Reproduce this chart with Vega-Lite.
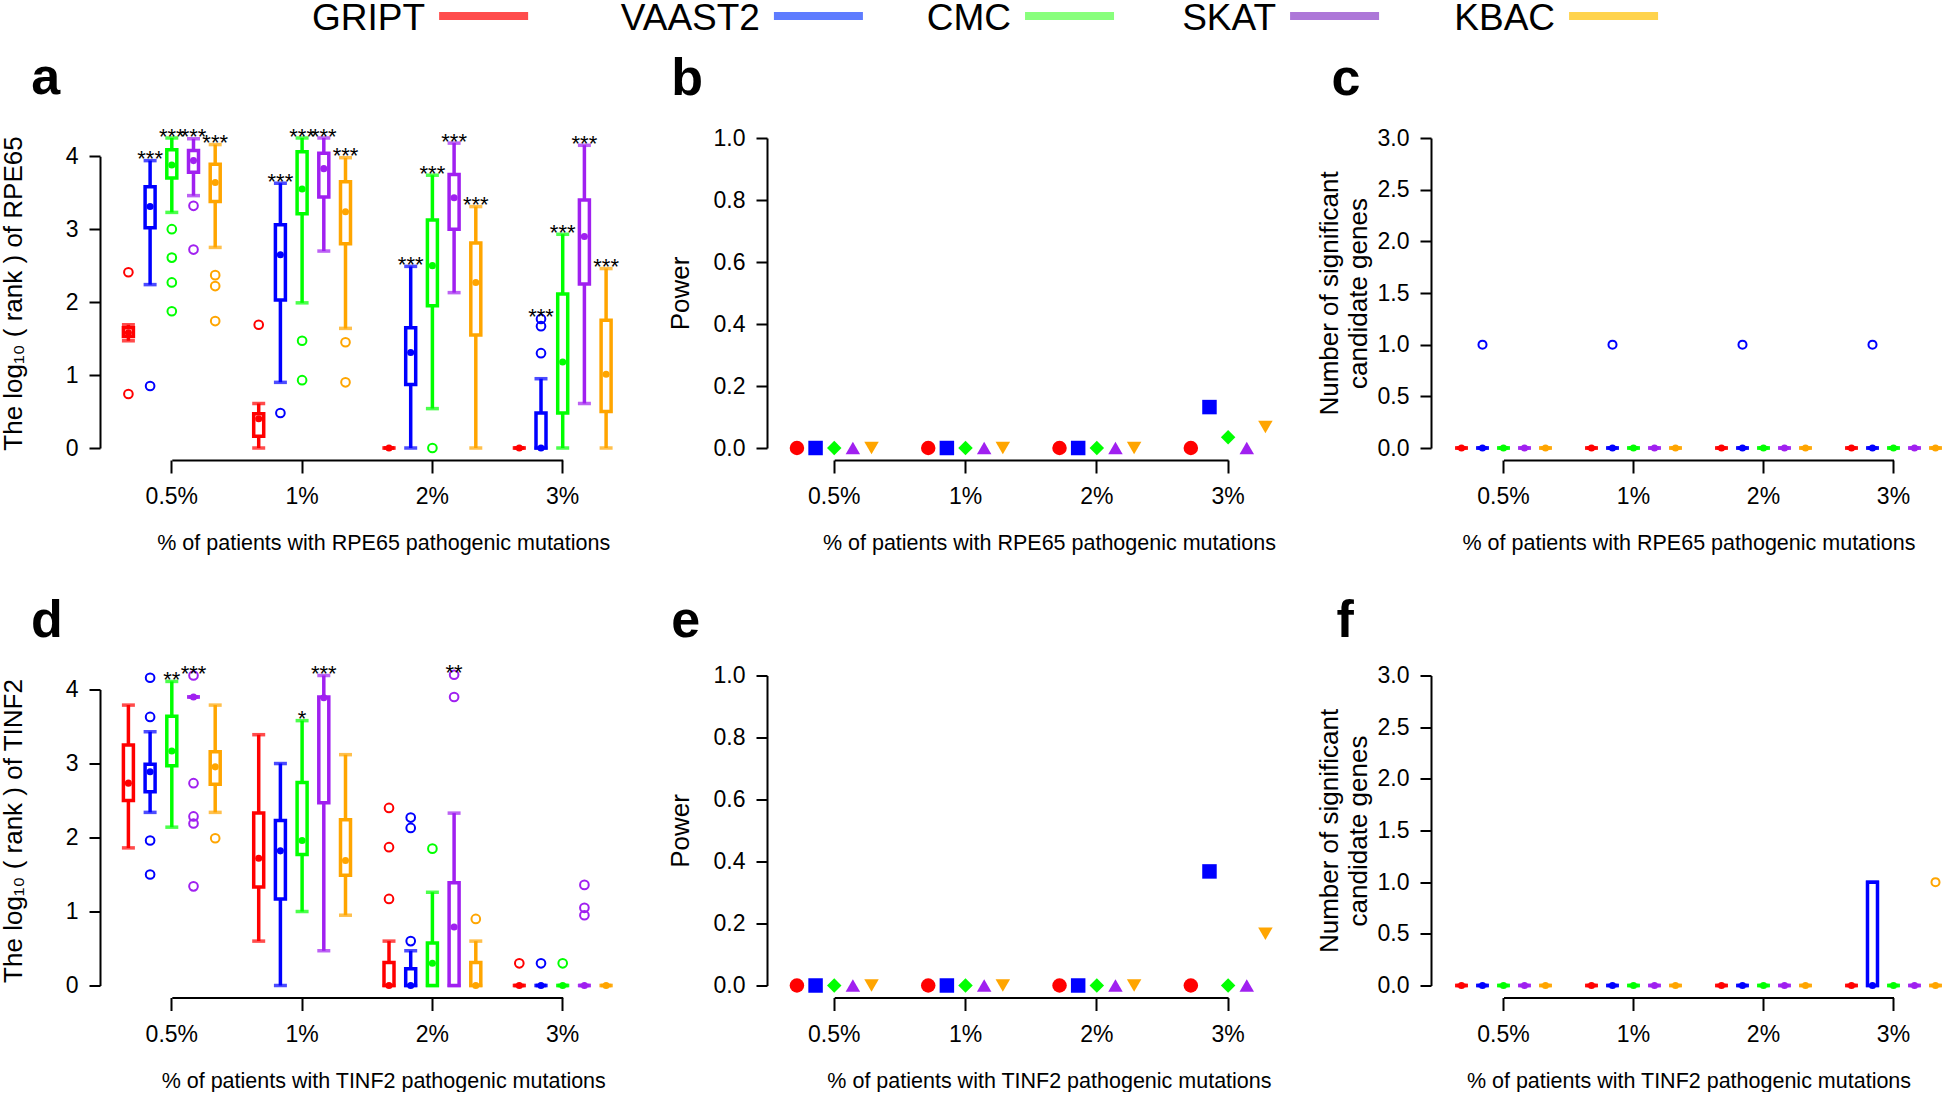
{
"$schema":"https://vega.github.io/schema/vega-lite/v6.json",
"padding":0,
"background":"white",
"config":{
 "view":{"stroke":null},
 "font":"Liberation Sans",
 "axis":{"grid":false,"domainColor":"black","domainWidth":2,"tickColor":"black","tickWidth":2,"labelColor":"black","titleColor":"black","labelFont":"Liberation Sans","labelFontSize":23,"titleFontWeight":"normal","titleFontSize":26},
 "axisX":{"offset":12,"tickSize":13,"labelPadding":12.5,"labelAngle":0,"titleFontSize":21.5,"titlePadding":24},
 "axisY":{"tickSize":11,"labelPadding":11},
 "title":{"font":"Liberation Sans","fontSize":52,"fontWeight":"bold","anchor":"start","frame":"group","baseline":"alphabetic","color":"black"}
},
"datasets":{
 "legend":[{"method":"GRIPT"},{"method":"VAAST2"},{"method":"CMC"},{"method":"SKAT"},{"method":"KBAC"}],
 "boxA":[
  {"pct":"0.5%","method":"GRIPT","lo":1.47,"q1":1.53,"med":1.58,"q3":1.65,"hi":1.69,"top":1.69,"sig":""},
  {"pct":"0.5%","method":"VAAST2","lo":2.24,"q1":3.02,"med":3.31,"q3":3.58,"hi":3.94,"top":3.94,"sig":"***"},
  {"pct":"0.5%","method":"CMC","lo":3.23,"q1":3.70,"med":3.88,"q3":4.09,"hi":4.25,"top":4.25,"sig":"***"},
  {"pct":"0.5%","method":"SKAT","lo":3.46,"q1":3.78,"med":3.94,"q3":4.08,"hi":4.24,"top":4.24,"sig":"***"},
  {"pct":"0.5%","method":"KBAC","lo":2.75,"q1":3.38,"med":3.64,"q3":3.89,"hi":4.16,"top":4.16,"sig":"***"},
  {"pct":"1%","method":"GRIPT","lo":0,"q1":0.16,"med":0.40,"q3":0.47,"hi":0.61,"top":1.69,"sig":""},
  {"pct":"1%","method":"VAAST2","lo":0.90,"q1":2.03,"med":2.65,"q3":3.06,"hi":3.63,"top":3.63,"sig":"***"},
  {"pct":"1%","method":"CMC","lo":1.99,"q1":3.21,"med":3.55,"q3":4.06,"hi":4.25,"top":4.25,"sig":"***"},
  {"pct":"1%","method":"SKAT","lo":2.70,"q1":3.44,"med":3.83,"q3":4.04,"hi":4.25,"top":4.25,"sig":"***"},
  {"pct":"1%","method":"KBAC","lo":1.64,"q1":2.80,"med":3.24,"q3":3.65,"hi":3.98,"top":3.98,"sig":"***"},
  {"pct":"2%","method":"GRIPT","lo":0,"q1":0,"med":0,"q3":0,"hi":0,"top":0,"sig":""},
  {"pct":"2%","method":"VAAST2","lo":0,"q1":0.87,"med":1.31,"q3":1.65,"hi":2.49,"top":2.49,"sig":"***"},
  {"pct":"2%","method":"CMC","lo":0.54,"q1":1.95,"med":2.50,"q3":3.125,"hi":3.74,"top":3.74,"sig":"***"},
  {"pct":"2%","method":"SKAT","lo":2.13,"q1":3.00,"med":3.43,"q3":3.75,"hi":4.18,"top":4.18,"sig":"***"},
  {"pct":"2%","method":"KBAC","lo":0,"q1":1.55,"med":2.27,"q3":2.81,"hi":3.31,"top":3.31,"sig":"***"},
  {"pct":"3%","method":"GRIPT","lo":0,"q1":0,"med":0,"q3":0,"hi":0,"top":0,"sig":""},
  {"pct":"3%","method":"VAAST2","lo":0,"q1":0,"med":0,"q3":0.48,"hi":0.95,"top":1.77,"sig":"***"},
  {"pct":"3%","method":"CMC","lo":0,"q1":0.48,"med":1.18,"q3":2.11,"hi":2.93,"top":2.93,"sig":"***"},
  {"pct":"3%","method":"SKAT","lo":0.61,"q1":2.25,"med":2.90,"q3":3.40,"hi":4.15,"top":4.15,"sig":"***"},
  {"pct":"3%","method":"KBAC","lo":0,"q1":0.50,"med":1.01,"q3":1.75,"hi":2.46,"top":2.46,"sig":"***"}
 ],
 "outA":[
  {"pct":"0.5%","method":"GRIPT","v":2.41},{"pct":"0.5%","method":"GRIPT","v":0.74},
  {"pct":"0.5%","method":"VAAST2","v":0.85},
  {"pct":"0.5%","method":"CMC","v":3.0},{"pct":"0.5%","method":"CMC","v":2.61},{"pct":"0.5%","method":"CMC","v":2.27},{"pct":"0.5%","method":"CMC","v":1.875},
  {"pct":"0.5%","method":"SKAT","v":3.32},{"pct":"0.5%","method":"SKAT","v":2.72},
  {"pct":"0.5%","method":"KBAC","v":2.37},{"pct":"0.5%","method":"KBAC","v":2.22},{"pct":"0.5%","method":"KBAC","v":1.74},
  {"pct":"1%","method":"GRIPT","v":1.69},
  {"pct":"1%","method":"VAAST2","v":0.48},
  {"pct":"1%","method":"CMC","v":1.47},{"pct":"1%","method":"CMC","v":0.93},
  {"pct":"1%","method":"KBAC","v":1.45},{"pct":"1%","method":"KBAC","v":0.90},
  {"pct":"2%","method":"CMC","v":0},
  {"pct":"3%","method":"VAAST2","v":1.77},{"pct":"3%","method":"VAAST2","v":1.67},{"pct":"3%","method":"VAAST2","v":1.30}
 ],
 "boxD":[
  {"pct":"0.5%","method":"GRIPT","lo":1.86,"q1":2.50,"med":2.735,"q3":3.25,"hi":3.79,"top":3.79,"sig":""},
  {"pct":"0.5%","method":"VAAST2","lo":2.34,"q1":2.62,"med":2.89,"q3":2.99,"hi":3.43,"top":4.16,"sig":""},
  {"pct":"0.5%","method":"CMC","lo":2.14,"q1":2.97,"med":3.17,"q3":3.64,"hi":4.11,"top":4.11,"sig":"**"},
  {"pct":"0.5%","method":"SKAT","lo":3.9,"q1":3.9,"med":3.9,"q3":3.9,"hi":3.9,"top":4.19,"sig":"***"},
  {"pct":"0.5%","method":"KBAC","lo":2.34,"q1":2.72,"med":2.955,"q3":3.16,"hi":3.79,"top":3.79,"sig":""},
  {"pct":"1%","method":"GRIPT","lo":0.60,"q1":1.33,"med":1.72,"q3":2.33,"hi":3.39,"top":3.39,"sig":""},
  {"pct":"1%","method":"VAAST2","lo":0,"q1":1.17,"med":1.82,"q3":2.23,"hi":3.0,"top":3.0,"sig":""},
  {"pct":"1%","method":"CMC","lo":1.0,"q1":1.77,"med":1.96,"q3":2.745,"hi":3.58,"top":3.58,"sig":"*"},
  {"pct":"1%","method":"SKAT","lo":0.47,"q1":2.47,"med":3.89,"q3":3.90,"hi":4.19,"top":4.19,"sig":"***"},
  {"pct":"1%","method":"KBAC","lo":0.95,"q1":1.49,"med":1.69,"q3":2.24,"hi":3.12,"top":3.12,"sig":""},
  {"pct":"2%","method":"GRIPT","lo":0,"q1":0,"med":0,"q3":0.31,"hi":0.60,"top":2.40,"sig":""},
  {"pct":"2%","method":"VAAST2","lo":0,"q1":0,"med":0,"q3":0.225,"hi":0.47,"top":2.27,"sig":""},
  {"pct":"2%","method":"CMC","lo":0,"q1":0,"med":0.30,"q3":0.575,"hi":1.26,"top":1.85,"sig":""},
  {"pct":"2%","method":"SKAT","lo":0,"q1":0,"med":0.79,"q3":1.39,"hi":2.33,"top":4.20,"sig":"**"},
  {"pct":"2%","method":"KBAC","lo":0,"q1":0,"med":0,"q3":0.31,"hi":0.60,"top":0.90,"sig":""},
  {"pct":"3%","method":"GRIPT","lo":0,"q1":0,"med":0,"q3":0,"hi":0,"top":0.30,"sig":""},
  {"pct":"3%","method":"VAAST2","lo":0,"q1":0,"med":0,"q3":0,"hi":0,"top":0.30,"sig":""},
  {"pct":"3%","method":"CMC","lo":0,"q1":0,"med":0,"q3":0,"hi":0,"top":0.30,"sig":""},
  {"pct":"3%","method":"SKAT","lo":0,"q1":0,"med":0,"q3":0,"hi":0,"top":1.36,"sig":""},
  {"pct":"3%","method":"KBAC","lo":0,"q1":0,"med":0,"q3":0,"hi":0,"top":0,"sig":""}
 ],
 "outD":[
  {"pct":"0.5%","method":"VAAST2","v":4.16},{"pct":"0.5%","method":"VAAST2","v":3.63},{"pct":"0.5%","method":"VAAST2","v":1.96},{"pct":"0.5%","method":"VAAST2","v":1.50},
  {"pct":"0.5%","method":"SKAT","v":4.19},{"pct":"0.5%","method":"SKAT","v":2.735},{"pct":"0.5%","method":"SKAT","v":2.285},{"pct":"0.5%","method":"SKAT","v":2.19},{"pct":"0.5%","method":"SKAT","v":1.34},
  {"pct":"0.5%","method":"KBAC","v":1.99},
  {"pct":"2%","method":"GRIPT","v":2.40},{"pct":"2%","method":"GRIPT","v":1.87},{"pct":"2%","method":"GRIPT","v":1.17},
  {"pct":"2%","method":"VAAST2","v":2.27},{"pct":"2%","method":"VAAST2","v":2.13},{"pct":"2%","method":"VAAST2","v":0.60},
  {"pct":"2%","method":"CMC","v":1.85},
  {"pct":"2%","method":"SKAT","v":4.20},{"pct":"2%","method":"SKAT","v":3.90},
  {"pct":"2%","method":"KBAC","v":0.90},
  {"pct":"3%","method":"GRIPT","v":0.30},{"pct":"3%","method":"VAAST2","v":0.30},{"pct":"3%","method":"CMC","v":0.30},
  {"pct":"3%","method":"SKAT","v":1.36},{"pct":"3%","method":"SKAT","v":1.05},{"pct":"3%","method":"SKAT","v":0.95}
 ],
 "powB":[
  {"pct":"0.5%","method":"GRIPT","power":0},{"pct":"0.5%","method":"VAAST2","power":0},{"pct":"0.5%","method":"CMC","power":0},{"pct":"0.5%","method":"SKAT","power":0},{"pct":"0.5%","method":"KBAC","power":0},
  {"pct":"1%","method":"GRIPT","power":0},{"pct":"1%","method":"VAAST2","power":0},{"pct":"1%","method":"CMC","power":0},{"pct":"1%","method":"SKAT","power":0},{"pct":"1%","method":"KBAC","power":0},
  {"pct":"2%","method":"GRIPT","power":0},{"pct":"2%","method":"VAAST2","power":0},{"pct":"2%","method":"CMC","power":0},{"pct":"2%","method":"SKAT","power":0},{"pct":"2%","method":"KBAC","power":0},
  {"pct":"3%","method":"GRIPT","power":0},{"pct":"3%","method":"VAAST2","power":0.132},{"pct":"3%","method":"CMC","power":0.035},{"pct":"3%","method":"SKAT","power":0},{"pct":"3%","method":"KBAC","power":0.068}
 ],
 "powE":[
  {"pct":"0.5%","method":"GRIPT","power":0},{"pct":"0.5%","method":"VAAST2","power":0},{"pct":"0.5%","method":"CMC","power":0},{"pct":"0.5%","method":"SKAT","power":0},{"pct":"0.5%","method":"KBAC","power":0},
  {"pct":"1%","method":"GRIPT","power":0},{"pct":"1%","method":"VAAST2","power":0},{"pct":"1%","method":"CMC","power":0},{"pct":"1%","method":"SKAT","power":0},{"pct":"1%","method":"KBAC","power":0},
  {"pct":"2%","method":"GRIPT","power":0},{"pct":"2%","method":"VAAST2","power":0},{"pct":"2%","method":"CMC","power":0},{"pct":"2%","method":"SKAT","power":0},{"pct":"2%","method":"KBAC","power":0},
  {"pct":"3%","method":"GRIPT","power":0},{"pct":"3%","method":"VAAST2","power":0.368},{"pct":"3%","method":"CMC","power":0},{"pct":"3%","method":"SKAT","power":0},{"pct":"3%","method":"KBAC","power":0.167}
 ],
 "boxC":[
  {"pct":"0.5%","method":"GRIPT","lo":0,"q1":0,"med":0,"q3":0,"hi":0},{"pct":"0.5%","method":"VAAST2","lo":0,"q1":0,"med":0,"q3":0,"hi":0},{"pct":"0.5%","method":"CMC","lo":0,"q1":0,"med":0,"q3":0,"hi":0},{"pct":"0.5%","method":"SKAT","lo":0,"q1":0,"med":0,"q3":0,"hi":0},{"pct":"0.5%","method":"KBAC","lo":0,"q1":0,"med":0,"q3":0,"hi":0},
  {"pct":"1%","method":"GRIPT","lo":0,"q1":0,"med":0,"q3":0,"hi":0},{"pct":"1%","method":"VAAST2","lo":0,"q1":0,"med":0,"q3":0,"hi":0},{"pct":"1%","method":"CMC","lo":0,"q1":0,"med":0,"q3":0,"hi":0},{"pct":"1%","method":"SKAT","lo":0,"q1":0,"med":0,"q3":0,"hi":0},{"pct":"1%","method":"KBAC","lo":0,"q1":0,"med":0,"q3":0,"hi":0},
  {"pct":"2%","method":"GRIPT","lo":0,"q1":0,"med":0,"q3":0,"hi":0},{"pct":"2%","method":"VAAST2","lo":0,"q1":0,"med":0,"q3":0,"hi":0},{"pct":"2%","method":"CMC","lo":0,"q1":0,"med":0,"q3":0,"hi":0},{"pct":"2%","method":"SKAT","lo":0,"q1":0,"med":0,"q3":0,"hi":0},{"pct":"2%","method":"KBAC","lo":0,"q1":0,"med":0,"q3":0,"hi":0},
  {"pct":"3%","method":"GRIPT","lo":0,"q1":0,"med":0,"q3":0,"hi":0},{"pct":"3%","method":"VAAST2","lo":0,"q1":0,"med":0,"q3":0,"hi":0},{"pct":"3%","method":"CMC","lo":0,"q1":0,"med":0,"q3":0,"hi":0},{"pct":"3%","method":"SKAT","lo":0,"q1":0,"med":0,"q3":0,"hi":0},{"pct":"3%","method":"KBAC","lo":0,"q1":0,"med":0,"q3":0,"hi":0}
 ],
 "outC":[{"pct":"0.5%","method":"VAAST2","v":1},{"pct":"1%","method":"VAAST2","v":1},{"pct":"2%","method":"VAAST2","v":1},{"pct":"3%","method":"VAAST2","v":1}],
 "boxF":[
  {"pct":"0.5%","method":"GRIPT","lo":0,"q1":0,"med":0,"q3":0,"hi":0},{"pct":"0.5%","method":"VAAST2","lo":0,"q1":0,"med":0,"q3":0,"hi":0},{"pct":"0.5%","method":"CMC","lo":0,"q1":0,"med":0,"q3":0,"hi":0},{"pct":"0.5%","method":"SKAT","lo":0,"q1":0,"med":0,"q3":0,"hi":0},{"pct":"0.5%","method":"KBAC","lo":0,"q1":0,"med":0,"q3":0,"hi":0},
  {"pct":"1%","method":"GRIPT","lo":0,"q1":0,"med":0,"q3":0,"hi":0},{"pct":"1%","method":"VAAST2","lo":0,"q1":0,"med":0,"q3":0,"hi":0},{"pct":"1%","method":"CMC","lo":0,"q1":0,"med":0,"q3":0,"hi":0},{"pct":"1%","method":"SKAT","lo":0,"q1":0,"med":0,"q3":0,"hi":0},{"pct":"1%","method":"KBAC","lo":0,"q1":0,"med":0,"q3":0,"hi":0},
  {"pct":"2%","method":"GRIPT","lo":0,"q1":0,"med":0,"q3":0,"hi":0},{"pct":"2%","method":"VAAST2","lo":0,"q1":0,"med":0,"q3":0,"hi":0},{"pct":"2%","method":"CMC","lo":0,"q1":0,"med":0,"q3":0,"hi":0},{"pct":"2%","method":"SKAT","lo":0,"q1":0,"med":0,"q3":0,"hi":0},{"pct":"2%","method":"KBAC","lo":0,"q1":0,"med":0,"q3":0,"hi":0},
  {"pct":"3%","method":"GRIPT","lo":0,"q1":0,"med":0,"q3":0,"hi":0},{"pct":"3%","method":"VAAST2","lo":0,"q1":0,"med":0,"q3":1,"hi":1},{"pct":"3%","method":"CMC","lo":0,"q1":0,"med":0,"q3":0,"hi":0},{"pct":"3%","method":"SKAT","lo":0,"q1":0,"med":0,"q3":0,"hi":0},{"pct":"3%","method":"KBAC","lo":0,"q1":0,"med":0,"q3":0,"hi":0}
 ],
 "outF":[{"pct":"3%","method":"KBAC","v":1}]
},
"resolve":{"scale":{"color":"independent","xOffset":"independent"}},
"spacing":14,
"vconcat":[
 {
  "width":1520.55,"height":28,
  "data":{"name":"legend"},
  "encoding":{
   "x":{"field":"method","type":"nominal","scale":{"type":"band","paddingInner":0,"paddingOuter":0,"domain":["s0","s1","s2","s3","s4","s5","s6","s7","s8","s9","s10","s11","s12","s13","s14","s15","s16","s17","s18","s19","s20","s21","s22","s23","s24","s25","s26","GRIPT","s28","s29","s30","s31","s32","s33","s34","s35","s36","s37","s38","s39","s40","s41","s42","s43","s44","s45","s46","s47","s48","s49","s50","VAAST2","s52","s53","s54","s55","s56","s57","s58","s59","s60","s61","s62","s63","s64","s65","s66","s67","s68","CMC","s70","s71","s72","s73","s74","s75","s76","s77","s78","s79","s80","s81","s82","s83","s84","s85","s86","s87","SKAT","s89","s90","s91","s92","s93","s94","s95","s96","s97","s98","s99","s100","s101","s102","s103","s104","s105","s106","s107","KBAC"]},"axis":null},
   "color":{"field":"method","type":"nominal","scale":{"domain":["GRIPT","VAAST2","CMC","SKAT","KBAC"],"range":["#FF0000","#1A44FF","#55FF44","#8A3DC8","#FFC000"]},"legend":null}
  },
  "layer":[
   {"mark":{"type":"tick","orient":"horizontal","size":89,"thickness":8}},
   {"mark":{"type":"text","align":"right","baseline":"middle","dx":-58.5,"dy":3,"fontSize":37,"font":"Liberation Sans"},"encoding":{"text":{"field":"method"},"color":{"value":"black"}}}
  ]
 },
 {
  "columns":3,
  "bounds":"flush",
  "spacing":{"row":227.5,"column":100},
  "resolve":{"scale":{"xOffset":"independent","x":"independent","y":"independent"}},
  "concat":[
     {
      "width":566.5,"height":310,
      "title":{"text":"a","dx":-68.7,"offset":21},
      "encoding":{
       "x":{"field":"pct","type":"nominal","sort":["0.5%","1%","2%","3%"],"title":"% of patients with RPE65 pathogenic mutations","scale":{"type":"band","domain":["0.5%","1%","2%","3%"],"paddingInner":0.1673,"paddingOuter":0.2575,"align":0.2616},"axis":{"domainDash":[0,71.8,390.9,3000]}},
       "xOffset":{"field":"method","type":"nominal","sort":["GRIPT","VAAST2","CMC","SKAT","KBAC"],"scale":{"type":"band","domain":["GRIPT","VAAST2","CMC","SKAT","KBAC"],"paddingInner":0,"paddingOuter":0}},
       "color":{"field":"method","type":"nominal","scale":{"domain":["GRIPT","VAAST2","CMC","SKAT","KBAC"],"range":["#FF0000","#0000FF","#00FF00","#A020F0","#FFA500"]},"legend":null}
      },
      "layer":[
       {"data":{"name":"boxA"},"mark":{"type":"rule","strokeWidth":3.5},"encoding":{"y":{"field":"lo","type":"quantitative","title":"The log₁₀ ( rank ) of RPE65","scale":{"domain":[0,4.25],"nice":false,"zero":false},"axis":{"values":[0,1,2,3,4],"format":"d","domainDash":[291.8,3000],"titlePadding":39}},"y2":{"field":"hi"}}},
       {"data":{"name":"boxA"},"mark":{"type":"tick","orient":"horizontal","size":13,"thickness":3.5},"encoding":{"y":{"field":"lo","type":"quantitative","title":"The log₁₀ ( rank ) of RPE65","scale":{"domain":[0,4.25],"nice":false,"zero":false}}}},
       {"data":{"name":"boxA"},"mark":{"type":"tick","orient":"horizontal","size":13,"thickness":3.5},"encoding":{"y":{"field":"hi","type":"quantitative","title":"The log₁₀ ( rank ) of RPE65","scale":{"domain":[0,4.25],"nice":false,"zero":false}}}},
       {"data":{"name":"boxA"},"mark":{"type":"bar","width":10,"strokeWidth":3.5},"encoding":{"y":{"field":"q1","type":"quantitative","title":"The log₁₀ ( rank ) of RPE65","scale":{"domain":[0,4.25],"nice":false,"zero":false}},"y2":{"field":"q3"},"color":{"value":"white"},"stroke":{"field":"method","type":"nominal","scale":{"domain":["GRIPT","VAAST2","CMC","SKAT","KBAC"],"range":["#FF0000","#0000FF","#00FF00","#A020F0","#FFA500"]},"legend":null}}},
       {"data":{"name":"boxA"},"mark":{"type":"point","filled":true,"size":50,"opacity":1},"encoding":{"y":{"field":"med","type":"quantitative","title":"The log₁₀ ( rank ) of RPE65","scale":{"domain":[0,4.25],"nice":false,"zero":false}}}},
       {"data":{"name":"outA"},"mark":{"type":"point","filled":false,"size":75,"strokeWidth":2,"opacity":1},"encoding":{"y":{"field":"v","type":"quantitative","title":"The log₁₀ ( rank ) of RPE65","scale":{"domain":[0,4.25],"nice":false,"zero":false}}}},
       {"data":{"name":"boxA"},"mark":{"type":"text","fontSize":22,"baseline":"alphabetic","dy":5.5,"font":"Liberation Sans"},"encoding":{"y":{"field":"top","type":"quantitative","title":"The log₁₀ ( rank ) of RPE65","scale":{"domain":[0,4.25],"nice":false,"zero":false}},"text":{"field":"sig"},"color":{"value":"black"}}}
      ]
     },
     {
      "width":563.85,"height":310,
      "title":{"text":"b","dx":-95.7,"offset":21.4},
      "data":{"name":"powB"},
      "mark":{"type":"point","filled":true,"opacity":1},
      "encoding":{
       "x":{"field":"pct","type":"nominal","sort":["0.5%","1%","2%","3%"],"title":"% of patients with RPE65 pathogenic mutations","scale":{"type":"band","domain":["0.5%","1%","2%","3%"],"paddingInner":0.2898,"paddingOuter":0.2921,"align":0.2686},"axis":{"domainDash":[0,67.2,393.9,3000]}},
       "xOffset":{"field":"method","type":"nominal","sort":["GRIPT","VAAST2","CMC","SKAT","KBAC"],"scale":{"type":"band","domain":["GRIPT","VAAST2","CMC","SKAT","KBAC"],"paddingInner":0,"paddingOuter":0}},
       "y":{"field":"power","type":"quantitative","title":"Power","scale":{"domain":[0,1],"nice":false,"zero":false},"axis":{"values":[0,0.2,0.4,0.6,0.8,1],"format":".1f","titlePadding":19.7}},
       "color":{"field":"method","type":"nominal","scale":{"domain":["GRIPT","VAAST2","CMC","SKAT","KBAC"],"range":["#FF0000","#0000FF","#00FF00","#A020F0","#FFA500"]},"legend":null},
       "shape":{"field":"method","type":"nominal","scale":{"domain":["GRIPT","VAAST2","CMC","SKAT","KBAC"],"range":["circle","square","diamond","triangle-up","triangle-down"]},"legend":null},
       "size":{"field":"method","type":"nominal","scale":{"domain":["GRIPT","VAAST2","CMC","SKAT","KBAC"],"range":[210,210,360,380,380]},"legend":null}
      }
     },
     {
      "width":515,"height":310,
      "title":{"text":"c","dx":-99.5,"offset":21.4},
      "encoding":{
       "x":{"field":"pct","type":"nominal","sort":["0.5%","1%","2%","3%"],"title":"% of patients with RPE65 pathogenic mutations","scale":{"type":"band","domain":["0.5%","1%","2%","3%"],"paddingInner":0.1923,"paddingOuter":0.0769,"align":1},"axis":{"domainDash":[0,72.5,390,3000]}},
       "xOffset":{"field":"method","type":"nominal","sort":["GRIPT","VAAST2","CMC","SKAT","KBAC"],"scale":{"type":"band","domain":["GRIPT","VAAST2","CMC","SKAT","KBAC"],"paddingInner":0,"paddingOuter":0}},
       "color":{"field":"method","type":"nominal","scale":{"domain":["GRIPT","VAAST2","CMC","SKAT","KBAC"],"range":["#FF0000","#0000FF","#00FF00","#A020F0","#FFA500"]},"legend":null}
      },
      "layer":[
       {"data":{"name":"boxC"},"mark":{"type":"rule","strokeWidth":3.5},"encoding":{"y":{"field":"lo","type":"quantitative","title":["Number of significant","candidate genes"],"scale":{"domain":[0,3],"nice":false,"zero":false},"axis":{"values":[0,0.5,1,1.5,2,2.5,3],"format":".1f","titlePadding":6,"titleLineHeight":28.5}},"y2":{"field":"hi"}}},
       {"data":{"name":"boxC"},"mark":{"type":"tick","orient":"horizontal","size":13,"thickness":3.5},"encoding":{"y":{"field":"lo","type":"quantitative","title":["Number of significant","candidate genes"],"scale":{"domain":[0,3],"nice":false,"zero":false}}}},
       {"data":{"name":"boxC"},"mark":{"type":"tick","orient":"horizontal","size":13,"thickness":3.5},"encoding":{"y":{"field":"hi","type":"quantitative","title":["Number of significant","candidate genes"],"scale":{"domain":[0,3],"nice":false,"zero":false}}}},
       {"data":{"name":"boxC"},"mark":{"type":"bar","width":10,"strokeWidth":3.5},"encoding":{"y":{"field":"q1","type":"quantitative","title":["Number of significant","candidate genes"],"scale":{"domain":[0,3],"nice":false,"zero":false}},"y2":{"field":"q3"},"color":{"value":"white"},"stroke":{"field":"method","type":"nominal","scale":{"domain":["GRIPT","VAAST2","CMC","SKAT","KBAC"],"range":["#FF0000","#0000FF","#00FF00","#A020F0","#FFA500"]},"legend":null}}},
       {"data":{"name":"boxC"},"mark":{"type":"point","filled":true,"size":50,"opacity":1},"encoding":{"y":{"field":"med","type":"quantitative","title":["Number of significant","candidate genes"],"scale":{"domain":[0,3],"nice":false,"zero":false}}}},
       {"data":{"name":"outC"},"mark":{"type":"point","filled":false,"size":65,"strokeWidth":2,"opacity":1},"encoding":{"y":{"field":"v","type":"quantitative","title":["Number of significant","candidate genes"],"scale":{"domain":[0,3],"nice":false,"zero":false}}}}
      ]
     },
     {
      "width":566.5,"height":310,
      "title":{"text":"d","dx":-69,"offset":14.7},
      "encoding":{
       "x":{"field":"pct","type":"nominal","sort":["0.5%","1%","2%","3%"],"title":"% of patients with TINF2 pathogenic mutations","scale":{"type":"band","domain":["0.5%","1%","2%","3%"],"paddingInner":0.1673,"paddingOuter":0.2575,"align":0.2616},"axis":{"domainDash":[0,71.8,390.9,3000]}},
       "xOffset":{"field":"method","type":"nominal","sort":["GRIPT","VAAST2","CMC","SKAT","KBAC"],"scale":{"type":"band","domain":["GRIPT","VAAST2","CMC","SKAT","KBAC"],"paddingInner":0,"paddingOuter":0}},
       "color":{"field":"method","type":"nominal","scale":{"domain":["GRIPT","VAAST2","CMC","SKAT","KBAC"],"range":["#FF0000","#0000FF","#00FF00","#A020F0","#FFA500"]},"legend":null}
      },
      "layer":[
       {"data":{"name":"boxD"},"mark":{"type":"rule","strokeWidth":3.5},"encoding":{"y":{"field":"lo","type":"quantitative","title":"The log₁₀ ( rank ) of TINF2","scale":{"domain":[0,4.19],"nice":false,"zero":false},"axis":{"values":[0,1,2,3,4],"format":"d","domainDash":[295.9,3000],"titlePadding":39}},"y2":{"field":"hi"}}},
       {"data":{"name":"boxD"},"mark":{"type":"tick","orient":"horizontal","size":13,"thickness":3.5},"encoding":{"y":{"field":"lo","type":"quantitative","title":"The log₁₀ ( rank ) of TINF2","scale":{"domain":[0,4.19],"nice":false,"zero":false}}}},
       {"data":{"name":"boxD"},"mark":{"type":"tick","orient":"horizontal","size":13,"thickness":3.5},"encoding":{"y":{"field":"hi","type":"quantitative","title":"The log₁₀ ( rank ) of TINF2","scale":{"domain":[0,4.19],"nice":false,"zero":false}}}},
       {"data":{"name":"boxD"},"mark":{"type":"bar","width":10,"strokeWidth":3.5},"encoding":{"y":{"field":"q1","type":"quantitative","title":"The log₁₀ ( rank ) of TINF2","scale":{"domain":[0,4.19],"nice":false,"zero":false}},"y2":{"field":"q3"},"color":{"value":"white"},"stroke":{"field":"method","type":"nominal","scale":{"domain":["GRIPT","VAAST2","CMC","SKAT","KBAC"],"range":["#FF0000","#0000FF","#00FF00","#A020F0","#FFA500"]},"legend":null}}},
       {"data":{"name":"boxD"},"mark":{"type":"point","filled":true,"size":50,"opacity":1},"encoding":{"y":{"field":"med","type":"quantitative","title":"The log₁₀ ( rank ) of TINF2","scale":{"domain":[0,4.19],"nice":false,"zero":false}}}},
       {"data":{"name":"outD"},"mark":{"type":"point","filled":false,"size":75,"strokeWidth":2,"opacity":1},"encoding":{"y":{"field":"v","type":"quantitative","title":"The log₁₀ ( rank ) of TINF2","scale":{"domain":[0,4.19],"nice":false,"zero":false}}}},
       {"data":{"name":"boxD"},"mark":{"type":"text","fontSize":22,"baseline":"alphabetic","dy":5.5,"font":"Liberation Sans"},"encoding":{"y":{"field":"top","type":"quantitative","title":"The log₁₀ ( rank ) of TINF2","scale":{"domain":[0,4.19],"nice":false,"zero":false}},"text":{"field":"sig"},"color":{"value":"black"}}}
      ]
     },
     {
      "width":563.85,"height":310,
      "title":{"text":"e","dx":-95.7,"offset":16.4},
      "data":{"name":"powE"},
      "mark":{"type":"point","filled":true,"opacity":1},
      "encoding":{
       "x":{"field":"pct","type":"nominal","sort":["0.5%","1%","2%","3%"],"title":"% of patients with TINF2 pathogenic mutations","scale":{"type":"band","domain":["0.5%","1%","2%","3%"],"paddingInner":0.2898,"paddingOuter":0.2921,"align":0.2686},"axis":{"domainDash":[0,67.2,393.9,3000]}},
       "xOffset":{"field":"method","type":"nominal","sort":["GRIPT","VAAST2","CMC","SKAT","KBAC"],"scale":{"type":"band","domain":["GRIPT","VAAST2","CMC","SKAT","KBAC"],"paddingInner":0,"paddingOuter":0}},
       "y":{"field":"power","type":"quantitative","title":"Power","scale":{"domain":[0,1],"nice":false,"zero":false},"axis":{"values":[0,0.2,0.4,0.6,0.8,1],"format":".1f","titlePadding":19.7}},
       "color":{"field":"method","type":"nominal","scale":{"domain":["GRIPT","VAAST2","CMC","SKAT","KBAC"],"range":["#FF0000","#0000FF","#00FF00","#A020F0","#FFA500"]},"legend":null},
       "shape":{"field":"method","type":"nominal","scale":{"domain":["GRIPT","VAAST2","CMC","SKAT","KBAC"],"range":["circle","square","diamond","triangle-up","triangle-down"]},"legend":null},
       "size":{"field":"method","type":"nominal","scale":{"domain":["GRIPT","VAAST2","CMC","SKAT","KBAC"],"range":[210,210,360,380,380]},"legend":null}
      }
     },
     {
      "width":515,"height":310,
      "title":{"text":"f","dx":-94.5,"offset":16.4},
      "encoding":{
       "x":{"field":"pct","type":"nominal","sort":["0.5%","1%","2%","3%"],"title":"% of patients with TINF2 pathogenic mutations","scale":{"type":"band","domain":["0.5%","1%","2%","3%"],"paddingInner":0.1923,"paddingOuter":0.0769,"align":1},"axis":{"domainDash":[0,72.5,390,3000]}},
       "xOffset":{"field":"method","type":"nominal","sort":["GRIPT","VAAST2","CMC","SKAT","KBAC"],"scale":{"type":"band","domain":["GRIPT","VAAST2","CMC","SKAT","KBAC"],"paddingInner":0,"paddingOuter":0}},
       "color":{"field":"method","type":"nominal","scale":{"domain":["GRIPT","VAAST2","CMC","SKAT","KBAC"],"range":["#FF0000","#0000FF","#00FF00","#A020F0","#FFA500"]},"legend":null}
      },
      "layer":[
       {"data":{"name":"boxF"},"mark":{"type":"rule","strokeWidth":3.5},"encoding":{"y":{"field":"lo","type":"quantitative","title":["Number of significant","candidate genes"],"scale":{"domain":[0,3],"nice":false,"zero":false},"axis":{"values":[0,0.5,1,1.5,2,2.5,3],"format":".1f","titlePadding":6,"titleLineHeight":28.5}},"y2":{"field":"hi"}}},
       {"data":{"name":"boxF"},"mark":{"type":"tick","orient":"horizontal","size":13,"thickness":3.5},"encoding":{"y":{"field":"lo","type":"quantitative","title":["Number of significant","candidate genes"],"scale":{"domain":[0,3],"nice":false,"zero":false}}}},
       {"data":{"name":"boxF"},"mark":{"type":"tick","orient":"horizontal","size":13,"thickness":3.5},"encoding":{"y":{"field":"hi","type":"quantitative","title":["Number of significant","candidate genes"],"scale":{"domain":[0,3],"nice":false,"zero":false}}}},
       {"data":{"name":"boxF"},"mark":{"type":"bar","width":10,"strokeWidth":3.5},"encoding":{"y":{"field":"q1","type":"quantitative","title":["Number of significant","candidate genes"],"scale":{"domain":[0,3],"nice":false,"zero":false}},"y2":{"field":"q3"},"color":{"value":"white"},"stroke":{"field":"method","type":"nominal","scale":{"domain":["GRIPT","VAAST2","CMC","SKAT","KBAC"],"range":["#FF0000","#0000FF","#00FF00","#A020F0","#FFA500"]},"legend":null}}},
       {"data":{"name":"boxF"},"mark":{"type":"point","filled":true,"size":50,"opacity":1},"encoding":{"y":{"field":"med","type":"quantitative","title":["Number of significant","candidate genes"],"scale":{"domain":[0,3],"nice":false,"zero":false}}}},
       {"data":{"name":"outF"},"mark":{"type":"point","filled":false,"size":65,"strokeWidth":2,"opacity":1},"encoding":{"y":{"field":"v","type":"quantitative","title":["Number of significant","candidate genes"],"scale":{"domain":[0,3],"nice":false,"zero":false}}}}
      ]
     }
  ]
 }
]
}
